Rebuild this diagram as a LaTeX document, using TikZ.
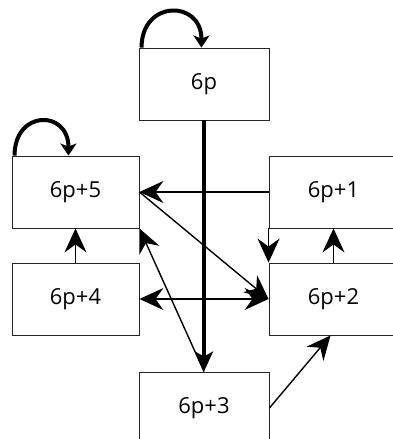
\documentclass[tikz,border=0pt]{standalone}
\usepackage{fontspec}
\setmainfont{Open Sans}
\usetikzlibrary{arrows.meta}
\begin{document}
\begin{tikzpicture}[x=1pt,y=-1pt,
  box/.style={draw=black!85,line width=0.9pt,minimum width=#1,minimum height=72pt,inner sep=0pt,font=\fontsize{22}{24}\selectfont},
  box/.default=130pt,
  arr/.style={line width=1.4pt,-{Stealth[length=24pt,width=22pt,inset=8pt]}},
  darr/.style={line width=1.4pt,{Stealth[length=24pt,width=22pt,inset=8pt]}-{Stealth[length=24pt,width=22pt,inset=8pt]}},
  thickarr/.style={line width=3.2pt,-{Stealth[length=20pt,width=18pt,inset=5pt]}},
  looparr/.style={line width=4pt,-{Stealth[length=12pt,width=16pt,inset=3pt]}}]
\useasboundingbox[fill=white] (0,0) rectangle (393,439);
\node[box=130pt] (n0) at (204,84) {6p};
\node[box=127pt] (n5) at (75.5,192) {6p+5};
\node[box=129pt] (n1) at (333.5,192) {6p+1};
\node[box=127pt] (n4) at (75.5,299) {6p+4};
\node[box=129pt] (n2) at (333.5,299) {6p+2};
\node[box=130pt] (n3) at (204,408) {6p+3};
% self loops
\coordinate (l0s) at ([xshift=3pt]n0.north west);
\coordinate (l0e) at ([xshift=-68pt]n0.north east);
\draw[looparr] (l0s) .. controls ([yshift=48pt]l0s) and ([yshift=48pt]l0e) .. (l0e);
\coordinate (l5s) at ([xshift=3pt]n5.north west);
\coordinate (l5e) at ([xshift=-71pt]n5.north east);
\draw[looparr] (l5s) .. controls ([yshift=46pt]l5s) and ([yshift=46pt]l5e) .. (l5e);
% edges
\draw[thickarr] (n0.south) -- (n3.north);
\draw[arr] (n1.west) -- (n5.east);
\draw[arr] (n5.east) -- (n2.west);
\draw[arr] (n3.north) -- (n5.south east);
\draw[darr] (n4.east) -- (n2.west);
\draw[arr] (n4.north) -- (n5.south);
\draw[arr] (n1.south west) -- (n2.north west);
\draw[arr] (n2.north) -- (n1.south);
\draw[arr] (n3.east) -- ([xshift=-3pt]n2.south);
\end{tikzpicture}
\end{document}
